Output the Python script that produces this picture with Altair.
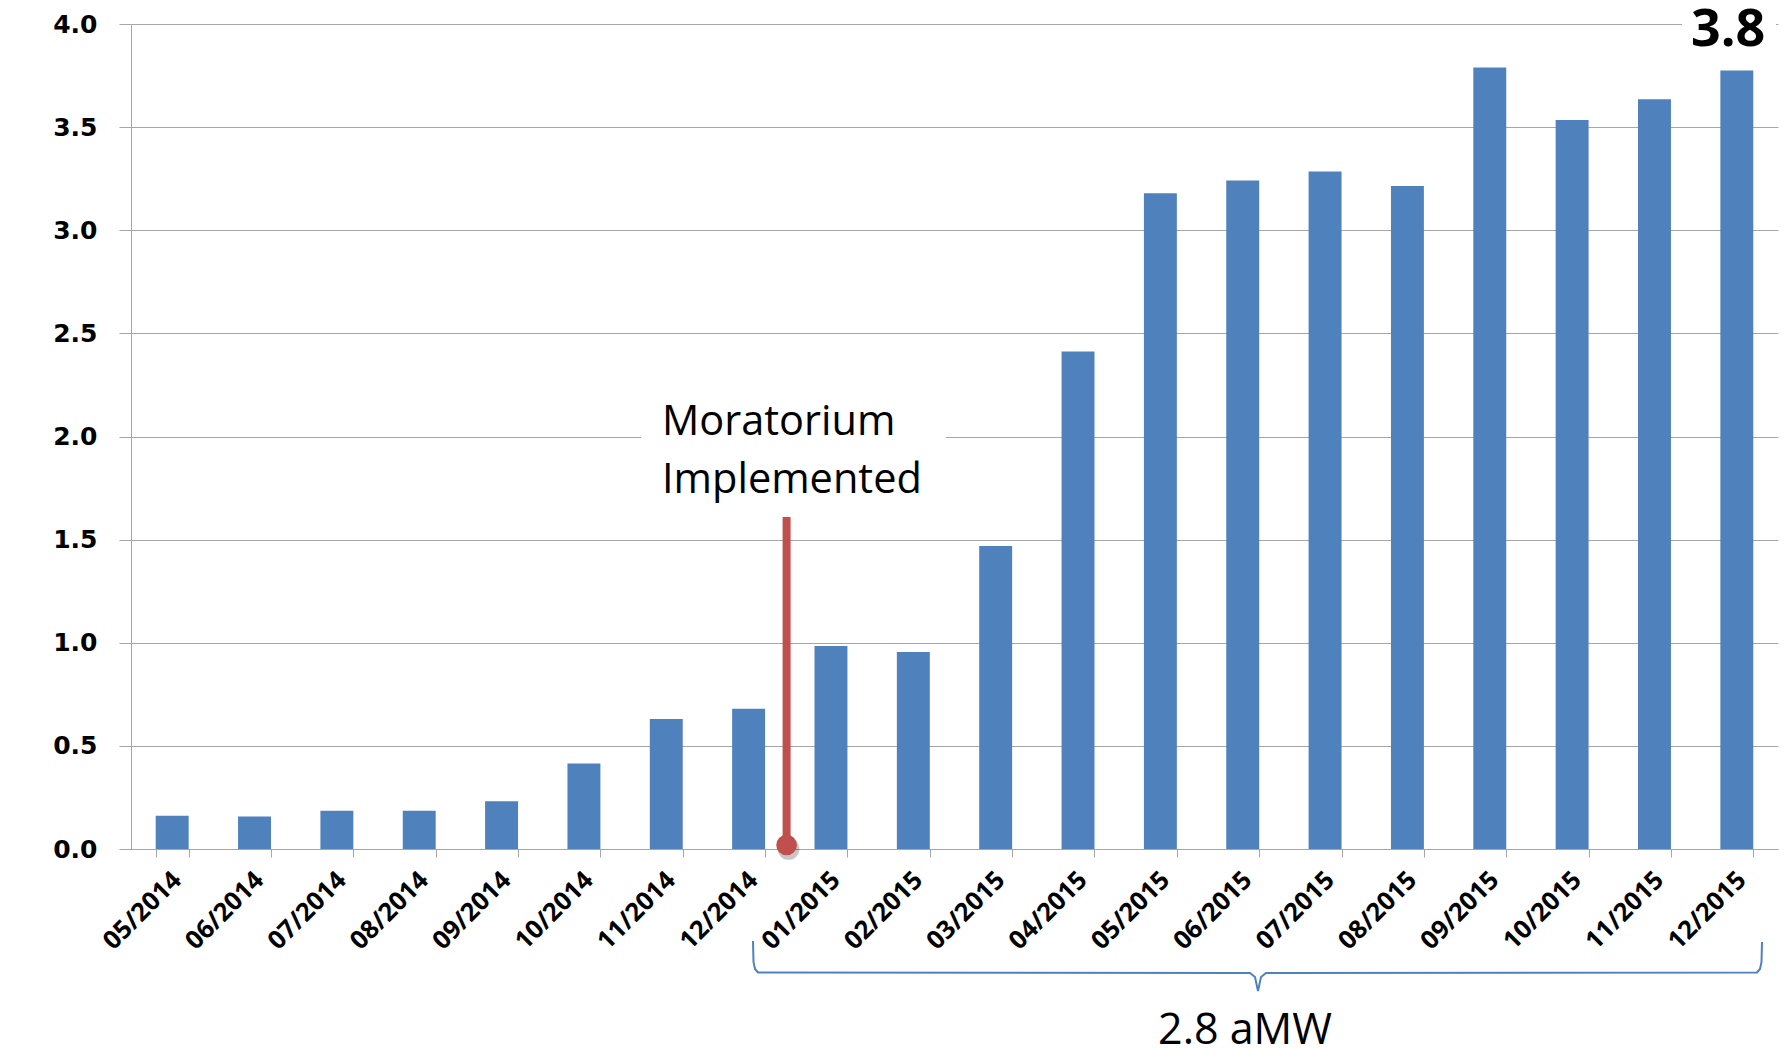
import altair as alt
import pandas as pd

# ---- chart values ----
months = ["05/2014", "06/2014", "07/2014", "08/2014", "09/2014", "10/2014", "11/2014", "12/2014",
          "01/2015", "02/2015", "03/2015", "04/2015", "05/2015", "06/2015", "07/2015", "08/2015",
          "09/2015", "10/2015", "11/2015", "12/2015"]
values = [0.161, 0.157, 0.186, 0.186, 0.231, 0.414, 0.63, 0.68,
          0.984, 0.955, 1.469, 2.412, 3.180, 3.241, 3.285, 3.215,
          3.789, 3.535, 3.635, 3.774]
y_ticks = [0.0, 0.5, 1.0, 1.5, 2.0, 2.5, 3.0, 3.5, 4.0]

event_month = ["12/2014"]
event_top = [1.61]
event_text = ["Moratorium\nImplemented"]
peak_text = ["3.8"]
growth_text = ["2.8 aMW"]

df = pd.DataFrame({"month": months, "value": values})

BLUE = "#4F81BD"
RED = "#C0504D"
GRID = "#A6A6A6"

x_enc = alt.X("month:N", sort=months, title=None,
              scale=alt.Scale(paddingInner=0.6, paddingOuter=0.3),
              axis=alt.Axis(labelAngle=-45, labelAlign="right", labelBaseline="top",
                            labelFont="Open Sans", labelFontWeight="bold", labelFontSize=25.5,
                            labelColor="black", labelPadding=10, labelOffset=-4,
                            tickBand="extent", tickSize=8, tickColor=GRID,
                            domainColor=GRID, grid=False))
y_enc = alt.Y("value:Q", scale=alt.Scale(domain=[0, 4], nice=False),
              axis=alt.Axis(values=y_ticks, format=".1f", title="aMW",
                            labelFont="DejaVu Sans", labelFontWeight="bold", labelFontSize=25,
                            labelColor="black", labelPadding=22, tickSize=12, tickColor=GRID,
                            domainColor=GRID, gridColor=GRID, grid=True,
                            titleFont="Open Sans", titleFontSize=31, titleFontWeight="normal",
                            titleColor="black", titleAngle=270, titleAlign="center",
                            titleBaseline="middle", titleX=-106, titleY=412))

bars = alt.Chart(df).mark_bar(color=BLUE).encode(x=x_enc, y=y_enc)

ev = pd.DataFrame({"month": event_month, "top": event_top, "label": event_text})

red_line = alt.Chart(ev).mark_rule(color=RED, strokeWidth=8, xOffset=21.5).encode(
    x=alt.X("month:N", sort=months, bandPosition=1, title=None),
    y=alt.Y("top:Q", title=None),
    y2=alt.datum(0),
)
dot_shadow = alt.Chart(ev).mark_circle(color="black", opacity=0.22, size=470, xOffset=23.5, yOffset=0).encode(
    x=alt.X("month:N", sort=months, bandPosition=1, title=None),
    y=alt.datum(0),
)
dot = alt.Chart(ev).mark_circle(color=RED, opacity=1, size=430, xOffset=21.5, yOffset=-4).encode(
    x=alt.X("month:N", sort=months, bandPosition=1, title=None),
    y=alt.datum(0),
)

one = alt.Data(values=[{"k": 1}])

mask1 = alt.Chart(one).mark_rect(color="white").encode(
    x=alt.value(510), x2=alt.value(815), y=alt.value(371), y2=alt.value(481))
mask2 = alt.Chart(one).mark_rect(color="white").encode(
    x=alt.value(1551), x2=alt.value(1645), y=alt.value(-22), y2=alt.value(30))

event_label = alt.Chart(ev).mark_text(
    align="left", baseline="alphabetic", font="Open Sans", fontSize=41.5,
    lineBreak="\n", lineHeight=58, color="black").encode(
    x=alt.value(531), y=alt.value(411), text="label:N")

peak = alt.Chart(pd.DataFrame({"t": peak_text})).mark_text(
    align="left", baseline="alphabetic", font="Open Sans", fontSize=52,
    fontWeight="bold", color="black").encode(
    x=alt.value(1560), y=alt.value(22), text="t:N")

brace_x = [622, 622.5, 624, 627, 1119, 1124, 1127, 1130, 1135, 1626, 1629, 1630.5, 1631]
brace_y = [917, 938, 945, 948.5, 949, 953, 967, 953, 949, 948.5, 945, 938, 918]
brace_df = pd.DataFrame({"bx": brace_x, "by": brace_y, "o": list(range(len(brace_x)))})
brace = alt.Chart(brace_df).mark_line(color=BLUE, strokeWidth=2).encode(
    x=alt.X("bx:Q", scale=None, axis=None),
    y=alt.Y("by:Q", scale=None, axis=None),
    order="o:Q",
)

growth = alt.Chart(pd.DataFrame({"t": growth_text})).mark_text(
    align="center", baseline="alphabetic", font="Open Sans", fontSize=43, color="black").encode(
    x=alt.value(1114), y=alt.value(1020), text="t:N")

chart = alt.layer(
    bars, mask1, mask2, red_line, dot_shadow, dot, event_label, peak, brace, growth
).properties(
    width=1647, height=825,
    autosize=alt.AutoSizeParams(type="none"),
    padding={"left": 131, "top": 24, "right": 7, "bottom": 199},
    background="white",
).configure_view(stroke=None)

chart.save("out.html", embed_options={"renderer": "svg", "actions": False})
